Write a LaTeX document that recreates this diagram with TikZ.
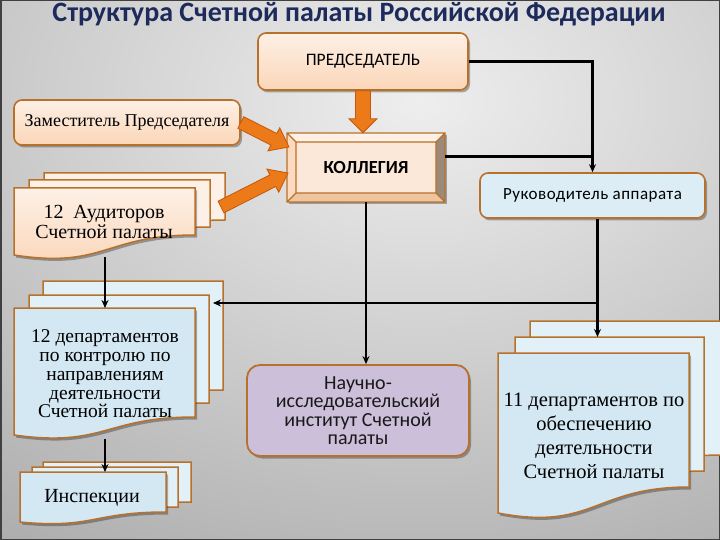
\documentclass[tikz,border=0pt]{standalone}
\usepackage{fontspec}
\setmainfont{Liberation Serif}
\newfontfamily\calfont{Carlito}
\newfontfamily\calsp[LetterSpace=3]{Carlito}
\usetikzlibrary{calc,arrows.meta,shadows}
\definecolor{bgA}{HTML}{EEEEEE}
\definecolor{bgB}{HTML}{8E8E8E}
\definecolor{bgC}{HTML}{7C7C7C}
\definecolor{peachA}{HTML}{FDF0E6}
\definecolor{peachB}{HTML}{FBD6B8}
\definecolor{boxline}{HTML}{B8712A}
\definecolor{blueF}{HTML}{D3E8F3}
\definecolor{blueB}{HTML}{E2F1F8}
\definecolor{lav}{HTML}{CCBFDA}
\definecolor{orA}{HTML}{EC7A18}
\definecolor{orD}{HTML}{C4590C}
\definecolor{navy}{HTML}{1D2A5C}
\pgfdeclareradialshading{bgsh}{\pgfpoint{0bp}{0bp}}{color(0bp)=(bgA); color(33bp)=(bgB); color(43bp)=(bgC); color(50bp)=(bgC)}
\newcommand\docshape[6]{%
 \pgfmathsetmacro\DSxr{#1+#3}%
 \pgfmathsetmacro\DSxm{#1+#3/2}%
 \pgfmathsetmacro\DSyr{#2+#4}%
 \pgfmathsetmacro\DSyl{#2+#5}%
 \pgfmathsetmacro\DSyc{#2+#5+0.7*(#5-#4)}%
 \path[#6] (#1,#2) -- (\DSxr,#2) -- (\DSxr,\DSyr) .. controls (\DSxm,\DSyr) and (\DSxm,\DSyc) .. (#1,\DSyl) -- cycle;%
}
\newcommand\blockarrow[5]{%
 \coordinate (BAneck) at ($(#2)!#5!(#1)$);%
 \path[orarrow] ($(#1)!#3!90:(#2)$) -- ($(BAneck)!#3!90:(#2)$) -- ($(BAneck)!#4!90:(#2)$) -- (#2) -- ($(BAneck)!#4!-90:(#2)$) -- ($(BAneck)!#3!-90:(#2)$) -- ($(#1)!#3!-90:(#2)$) -- cycle;%
}
\tikzset{
 shad/.style={drop shadow={shadow xshift=2pt,shadow yshift=-2.5pt,opacity=.3,fill=black}},
 conn/.style={line width=2.3pt,draw=black},
 aconn/.style={conn,-{Stealth[length=8pt,width=7pt]}},
 peachbox/.style={draw=boxline,line width=1.6pt,top color=peachA,bottom color=peachB,rounded corners=8pt,inner sep=0pt,shad},
 bluebox/.style={draw=boxline,line width=1.6pt,fill=blueF!80!white,rounded corners=8pt,inner sep=0pt,shad},
 docF/.style={draw=boxline,line width=1.5pt,fill=blueF,shad},
 docB/.style={draw=boxline,line width=1.5pt,fill=blueB},
 docPF/.style={draw=boxline,line width=1.5pt,top color=peachA,bottom color=peachB,shad},
 docPB/.style={draw=boxline,line width=1.5pt,fill=peachA},
 orarrow/.style={fill=orA,draw=orD,line width=0.8pt,line join=miter},
 sertext/.style={font=\fontsize{20}{20}\selectfont,align=center,inner sep=0pt,text=black},
 saltext/.style={font=\calfont\fontsize{20}{18.5}\selectfont,align=center,inner sep=0pt,text=black!90},
}
\begin{document}
\begin{tikzpicture}[x=1pt,y=-1pt]
\useasboundingbox (0,0) rectangle (720,540);
\begin{scope}
\clip (0,0) rectangle (720,540);
\shade[shading=bgsh] (420,100) ellipse [x radius=840pt, y radius=600pt];
\end{scope}
\draw[line width=1.5pt,draw=black!75] (0.75,0.75) rectangle (719.25,539.25);
% title
\node[font=\calfont\bfseries\fontsize{28}{29}\selectfont,text=navy,inner sep=0pt] (ttl) at (359,14) {Структура Счетной палаты Российской Федерации};
% top boxes
\node[peachbox,minimum width=210pt,minimum height=57pt,font=\calfont\fontsize{17.5}{18}\selectfont] (pred) at (363,61.5) {ПРЕДСЕДАТЕЛЬ};
\node[peachbox,minimum width=226pt,minimum height=45pt,font=\fontsize{18}{20}\selectfont] (zam) at (127,122.5) {Заместитель Председателя};
\node[bluebox,minimum width=225pt,minimum height=45pt,font=\calsp\fontsize{17}{18}\selectfont] (ruk) at (592.5,195.5) {Руководитель аппарата};
% kollegia bevel
\path[shad,fill=peachB] (287,133) rectangle (445,202);
\fill[fill=peachA] (287,133) -- (445,133) -- (436,142) -- (296,142) -- cycle;
\fill[fill=peachB!90!white] (287,133) -- (296,142) -- (296,193) -- (287,202) -- cycle;
\fill[fill=black!35!peachB!80!gray] (445,133) -- (445,202) -- (436,193) -- (436,142) -- cycle;
\fill[fill=peachB!80!brown] (287,202) -- (445,202) -- (436,193) -- (296,193) -- cycle;
\fill[fill=peachA!70!peachB] (296,142) rectangle (436,193);
\draw[draw=boxline,line width=1.3pt] (287,133) rectangle (445,202) (296,142) rectangle (436,193)
 (287,133) -- (296,142) (445,133) -- (436,142) (445,202) -- (436,193) (287,202) -- (296,193);
\node[minimum width=158pt,minimum height=69pt,inner sep=0pt,font=\calfont\bfseries\fontsize{18.5}{20}\selectfont] (kol) at (366,167.5) {КОЛЛЕГИЯ};
% NII
\node[draw=boxline,line width=1.8pt,fill=lav,rounded corners=13pt,minimum width=222pt,minimum height=91pt,inner sep=0pt,saltext,shad] (nii) at (358,410.5) {Научно-\\исследовательский\\институт Счетной\\палаты};
% auditors documents
\docshape{44}{173}{181}{47}{67}{docPB}
\docshape{29}{180}{181}{47}{67}{docPB}
\docshape{14}{188}{181}{47}{67}{docPF}
\node[sertext] (aud) at (104,222) {12\ \ Аудиторов\\Счетной палаты};
% 12 departments
\docshape{43}{281}{180}{109}{127}{docB}
\docshape{29}{295}{180}{108}{126}{docB}
\docshape{14}{308}{181}{109}{127}{docF}
\node[sertext,font=\fontsize{19.5}{18.8}\selectfont] (dep12) at (105,374) {12 департаментов\\по контролю по\\направлениям\\деятельности\\Счетной палаты};
% inspections
\docshape{43}{462}{148}{40}{50}{docB}
\docshape{32}{467}{146}{40}{50}{docB}
\docshape{20}{472}{146}{40}{50}{docF}
\node[sertext] (insp) at (92,498) {Инспекции};
% 11 departments
\docshape{530}{321}{191}{134}{160}{docB}
\docshape{515}{337}{189}{134}{160}{docB}
\docshape{498}{353}{191}{134}{160}{docF}
\node[sertext,font=\fontsize{20.5}{24}\selectfont] (dep11) at (594,436) {11 департаментов по\\обеспечению\\деятельности\\Счетной палаты};
% coordinates
\coordinate (audB) at (105,257);
\coordinate (d12T) at (105,308);
\coordinate (d12B) at (105,439);
\coordinate (inspT) at (105,472);
\coordinate (d11T) at (598,337);
\coordinate (d12R) at (213,303);
\coordinate (kolE) at ([yshift=11pt]kol.east);
\coordinate (rukS) at ([xshift=5pt]ruk.south);
\coordinate (zamT) at (289,147);
\coordinate (audT) at (288,173);
\coordinate (audS) at (221,207);
% orange arrows
\blockarrow{pred.south}{pred.south |- kol.north}{7.5pt}{14pt}{14pt}
\blockarrow{zam.east}{zamT}{6.5pt}{13pt}{17pt}
\blockarrow{audS}{audT}{6.5pt}{13pt}{17pt}
% connectors
\draw[aconn] (pred.east) -| (ruk.north);
\draw[conn] (kolE) -- (kolE -| ruk.north);
\draw[aconn] (kol.south) -- (kol.south |- nii.north);
\draw[aconn] (rukS) -- (rukS |- d11T);
\draw[aconn] (d12R -| rukS) -- (d12R);
\draw[aconn] (audB) -- (d12T);
\draw[aconn] (d12B) -- (inspT);
\end{tikzpicture}
\end{document}
